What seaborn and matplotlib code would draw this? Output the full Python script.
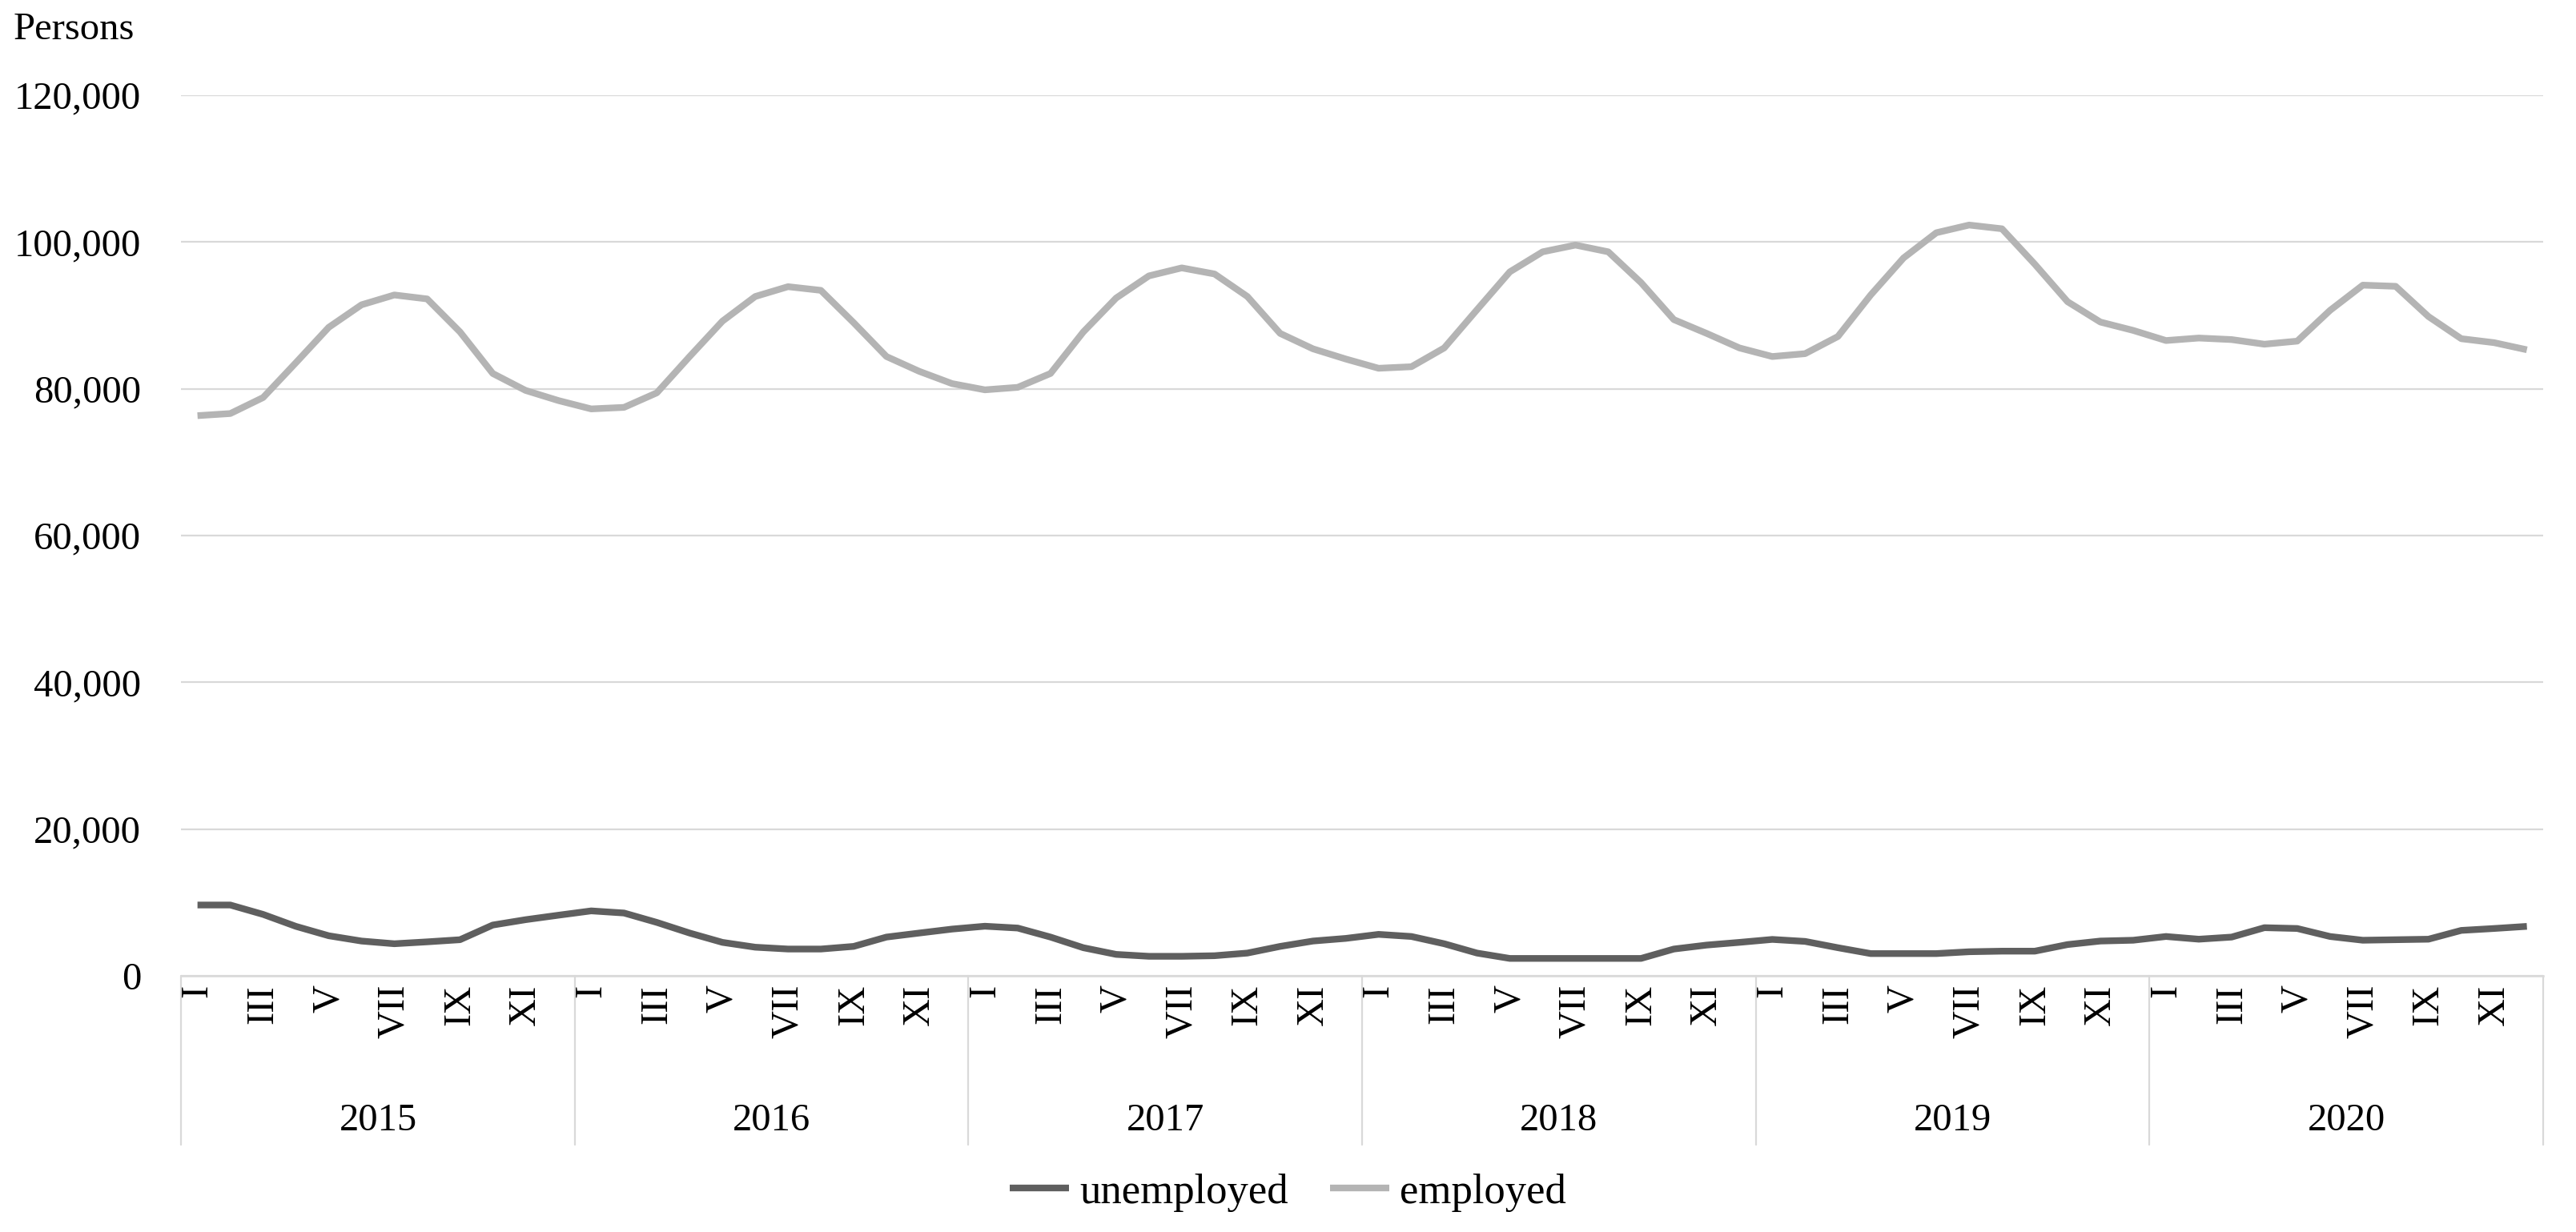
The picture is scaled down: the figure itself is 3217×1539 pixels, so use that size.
import matplotlib
matplotlib.use("Agg")
import matplotlib.pyplot as plt
import matplotlib.transforms as mtransforms
from matplotlib.ticker import FuncFormatter
import seaborn as sns
import pandas as pd

years = ["2015", "2016", "2017", "2018", "2019", "2020"]
months = ["I", "II", "III", "IV", "V", "VI", "VII", "VIII", "IX", "X", "XI", "XII"]

unemployed = [
    9640, 9640, 8360, 6730, 5450, 4730, 4360, 4620, 4910, 6910, 7640, 8250,
    8840, 8550, 7270, 5820, 4550, 3890, 3640, 3640, 4000, 5270, 5820, 6360,
    6750, 6500, 5270, 3820, 2910, 2650, 2650, 2730, 3090, 4000, 4730, 5090,
    5640, 5350, 4360, 3090, 2360, 2360, 2360, 2360, 2360, 3640, 4180, 4550,
    4950, 4680, 3820, 3020, 3020, 3020, 3270, 3350, 3350, 4250, 4730, 4840,
    5350, 4980, 5270, 6550, 6440, 5350, 4840, 4910, 4980, 6180, 6440, 6730,
]
employed = [
    76330, 76620, 78800, 83550, 88370, 91440, 92780, 92240, 87750, 82080, 79770, 78390,
    77250, 77460, 79440, 84390, 89210, 92570, 93910, 93410, 89000, 84390, 82370, 80700,
    79850, 80190, 82080, 87740, 92360, 95380, 96470, 95640, 92570, 87540, 85440, 84050,
    82790, 83000, 85560, 90770, 95930, 98660, 99580, 98660, 94460, 89420, 87540, 85560,
    84390, 84780, 87120, 92780, 97820, 101260, 102310, 101800, 96980, 91860, 89090, 87950,
    86570, 86910, 86700, 86070, 86490, 90680, 94120, 93960, 89840, 86820, 86280, 85310,
]

sns.set_theme(style="white")
plt.rcParams["font.family"] = ["Liberation Serif", "DejaVu Serif"]
plt.rcParams["text.color"] = "black"
plt.rcParams["xtick.color"] = "black"
plt.rcParams["ytick.color"] = "black"

n = len(years) * len(months)
df = pd.DataFrame({
    "idx": list(range(n)),
    "unemployed": unemployed,
    "employed": employed,
})
long_df = df.melt(id_vars="idx", var_name="series", value_name="persons")

fig = plt.figure(figsize=(3217 / 200, 1539 / 200), dpi=200)
ax = fig.add_axes([0.0703, 0.208, 0.917, 0.7147])

sns.lineplot(data=long_df, x="idx", y="persons", hue="series",
             hue_order=["unemployed", "employed"],
             palette={"unemployed": "#5f5f5f", "employed": "#b4b4b4"},
             linewidth=3.0, ax=ax)
for line in ax.get_lines():
    line.set_solid_joinstyle("round")
    line.set_solid_capstyle("butt")

ax.set_xlim(-0.5, n - 0.5)
ax.set_ylim(0, 120000)
ax.set_yticks(range(0, 120001, 20000))
ax.yaxis.set_major_formatter(FuncFormatter(lambda v, p: f"{int(v):,}"))
ax.grid(axis="y", color="#d9d9d9", linewidth=0.8)
ax.grid(axis="x", visible=False)
ax.set_axisbelow(True)
for side in ["top", "right", "left"]:
    ax.spines[side].set_visible(False)
ax.spines["bottom"].set_color("#d9d9d9")
ax.spines["bottom"].set_linewidth(0.9)

tick_pos = [i for i in range(n) if i % 2 == 0]
tick_lab = [months[i % 12] for i in tick_pos]
ax.set_xticks(tick_pos)
ax.set_xticklabels(tick_lab, rotation=90, va="top", ha="center")
ax.tick_params(axis="x", length=0, pad=4, labelsize=17.5)
ax.tick_params(axis="y", length=0, pad=18, labelsize=17.5)
ax.set_xlabel("")
ax.set_ylabel("")

trans = mtransforms.blended_transform_factory(ax.transData, ax.transAxes)
for k, yr in enumerate(years):
    ax.text(k * 12 + 5.5, -0.165, yr, transform=trans, ha="center", va="center",
            fontsize=17.5)
for k in range(len(years) + 1):
    ax.plot([k * 12 - 0.5, k * 12 - 0.5], [0, -0.192], transform=trans,
            color="#d9d9d9", linewidth=0.8, clip_on=False)

fig.text(0.005, 0.976, "Persons", ha="left", va="center", fontsize=17.5)

handles, labels = ax.get_legend_handles_labels()
ax.get_legend().remove()
fig.legend(handles, labels, loc="center", bbox_to_anchor=(0.5, 0.032), ncol=2,
           frameon=False, fontsize=19, handlelength=1.4, handletextpad=0.25,
           columnspacing=1.0)

fig.savefig("out.png", dpi=200, facecolor="white")
plt.close(fig)
